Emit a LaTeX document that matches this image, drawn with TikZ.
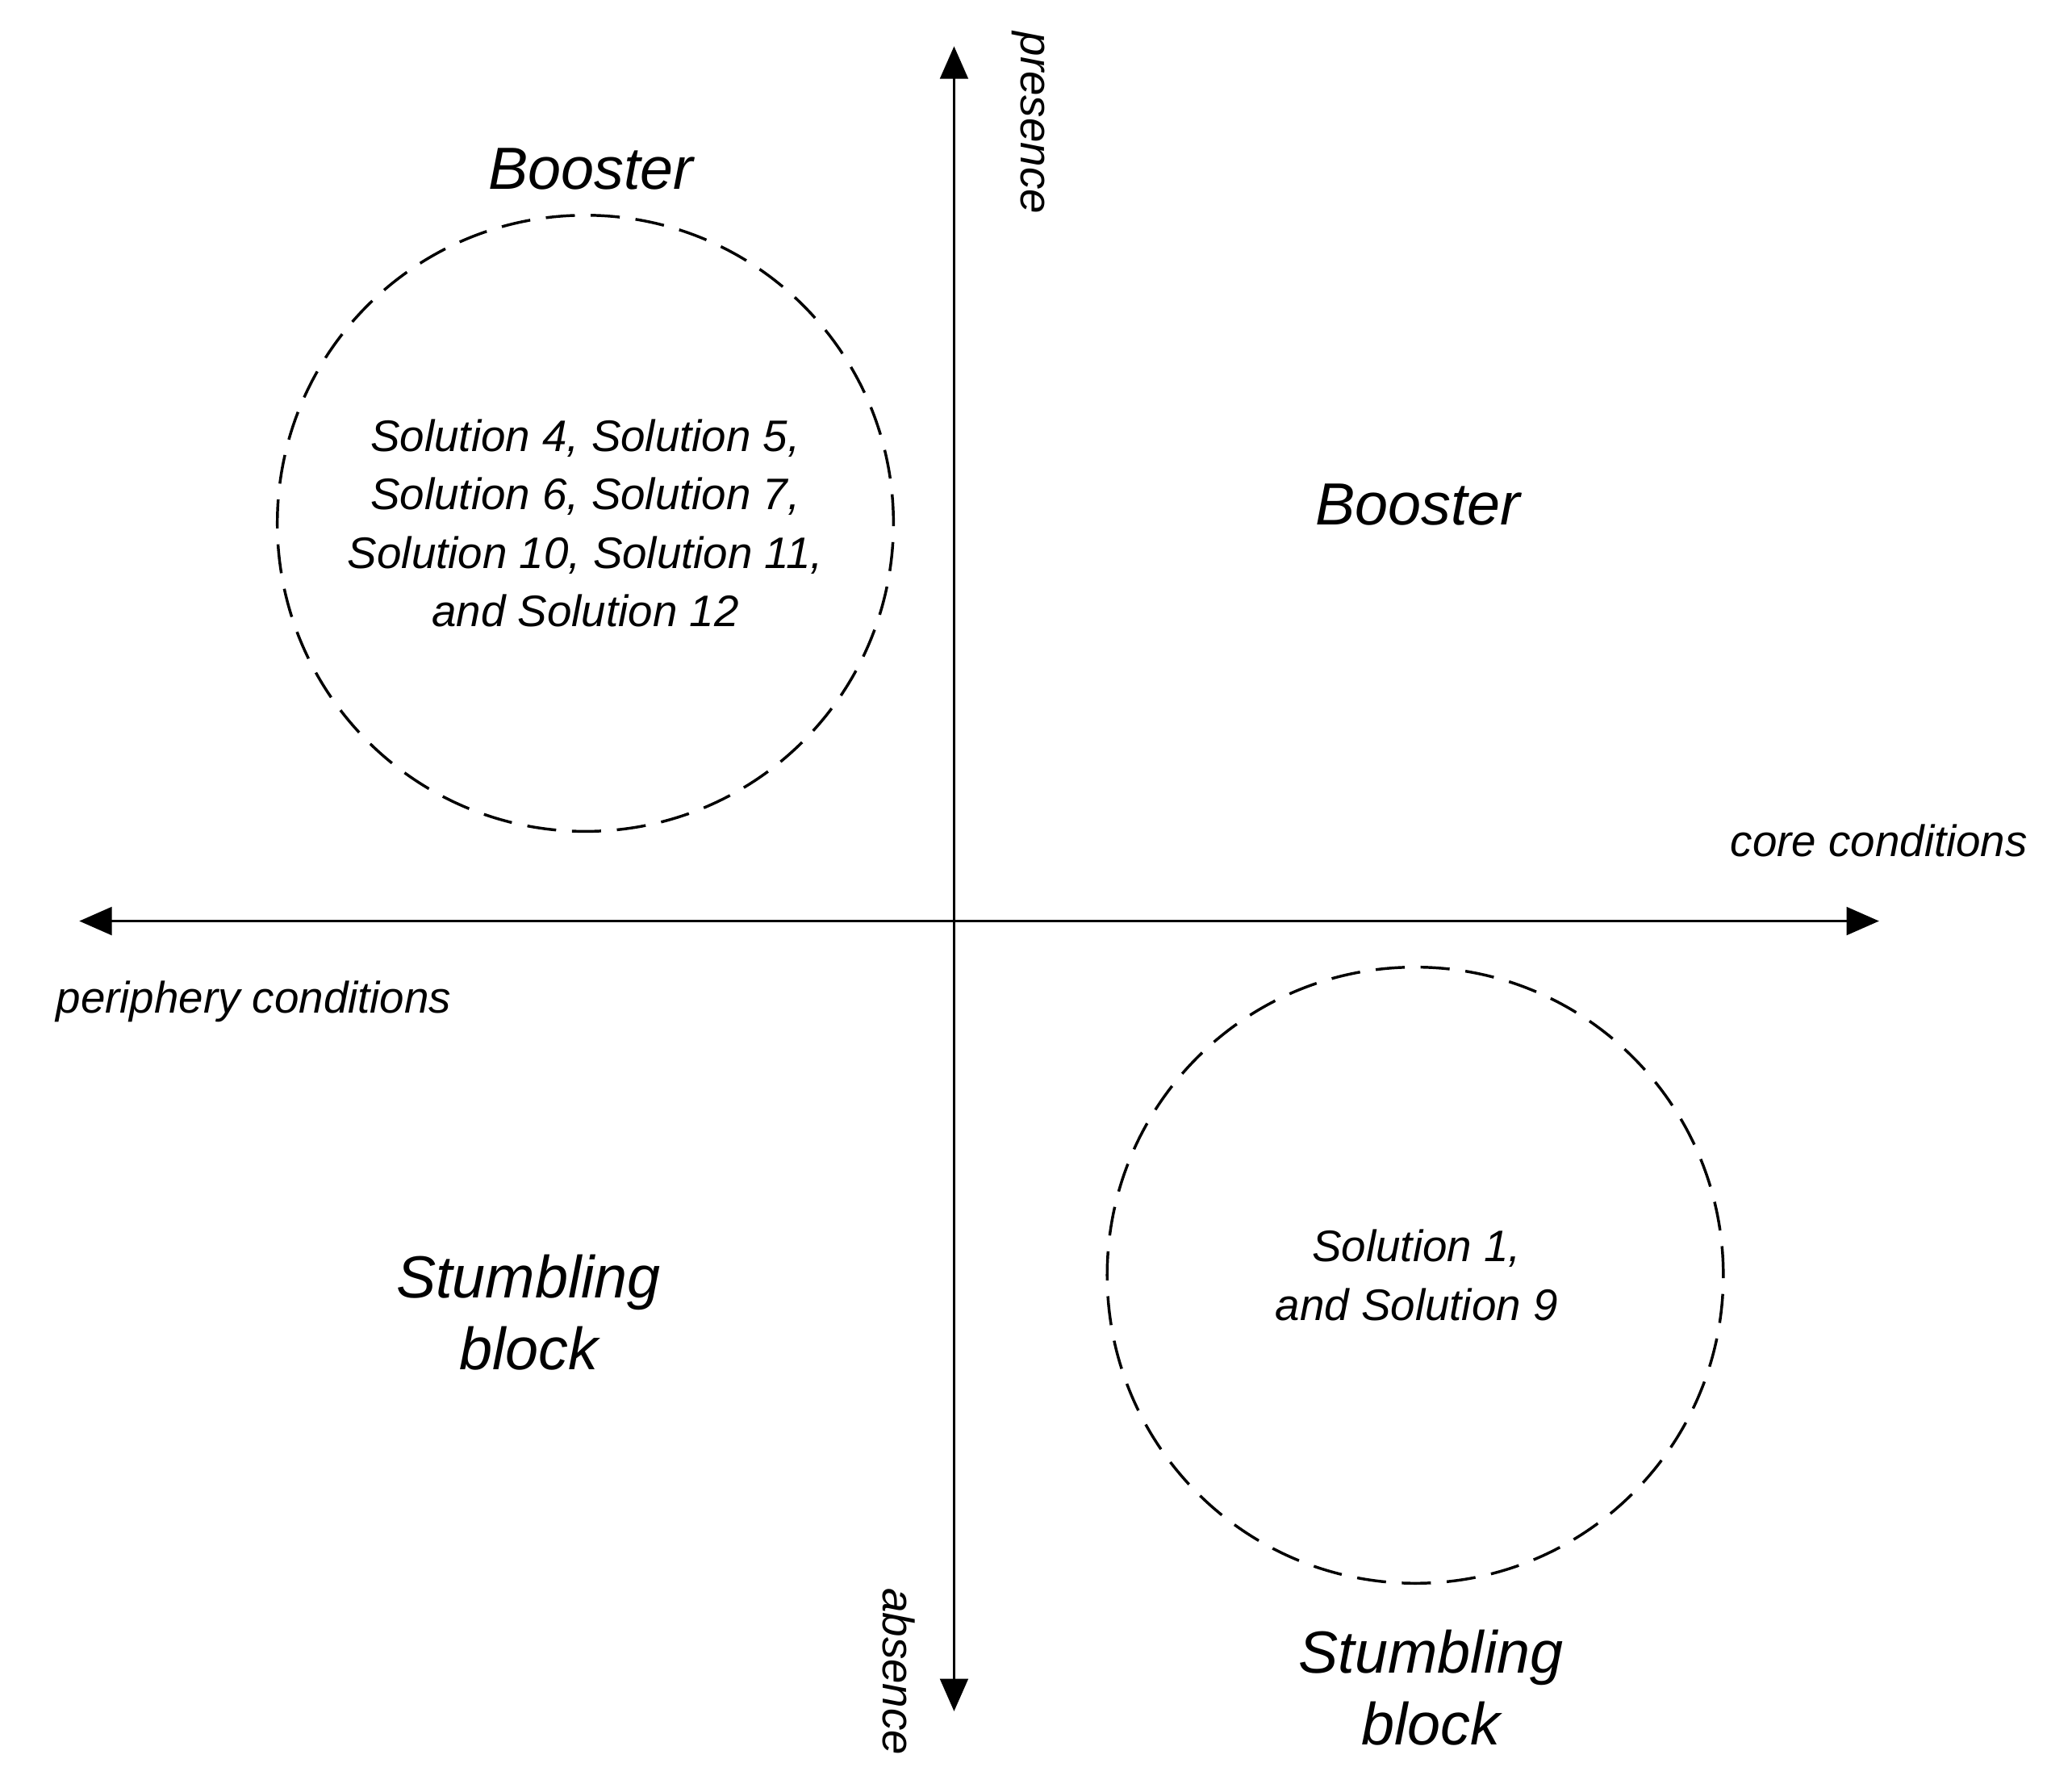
\documentclass[tikz,border=0pt]{standalone}
\usepackage{fontspec}
\setmainfont{Liberation Sans}
\usetikzlibrary{arrows.meta}
\begin{document}
\begin{tikzpicture}[x=0.01cm,y=-0.01cm,
  axis/.style={line width=0.6pt,{Triangle[length=7pt,width=6pt]}-{Triangle[length=7pt,width=6pt]}},
  ring/.style={draw,circle,line width=0.6pt,dash pattern=on 0.22cm off 0.12cm,minimum size=4.66cm,inner sep=0pt},
  big/.style={font=\fontsize{12.8}{15.5}\selectfont\itshape,align=center},
  small/.style={font=\fontsize{9.5}{12.6}\selectfont\itshape,align=center}]
\useasboundingbox (0,0) rectangle (1568,1353);
\coordinate (top) at (722,35);
\coordinate (bot) at (722,1295);
\coordinate (lft) at (60,697);
\coordinate (rgt) at (1422,697);
\draw[axis] (bot) -- (top);
\draw[axis] (lft) -- (rgt);
\node[ring] (c1) at (443,396) {};
\node[ring] (c2) at (1071,965) {};
\node[small] (t1) at (c1) {Solution 4, Solution 5,\\Solution 6, Solution 7,\\Solution 10, Solution 11,\\and Solution 12};
\node[small] (t2) at (1072,965) {Solution 1,\\and Solution 9};
\node[big] (b1) at (447,128) {Booster};
\node[big] (b2) at (1073,382) {Booster};
\node[big] (s1) at (400,993) {Stumbling\\block};
\node[big] (s2) at (1083,1277) {Stumbling\\block};
\node[small,rotate=-90] (pr) at (778,93) {presence};
\node[small,rotate=-90] (ab) at (680,1265) {absence};
\node[small] (cc) at (1422,636) {core conditions};
\node[small] (pc) at (192,758) {periphery conditions};
\end{tikzpicture}
\end{document}
